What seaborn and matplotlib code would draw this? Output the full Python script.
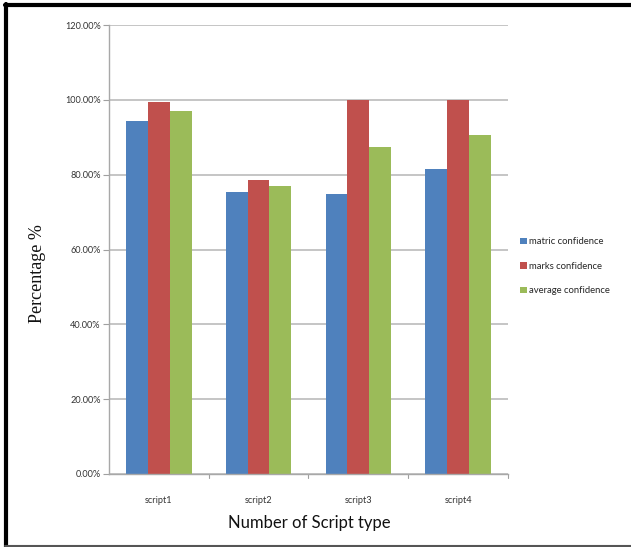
import matplotlib
matplotlib.use("Agg")
import matplotlib.pyplot as plt
import seaborn as sns
import pandas as pd
from matplotlib.lines import Line2D
from matplotlib.patches import Patch

categories = ["script1", "script2", "script3", "script4"]
series_names = ["matric confidence", "marks confidence", "average confidence"]
matric = [94.5, 75.4, 74.9, 81.6]
marks = [99.5, 78.6, 100.0, 100.0]
average = [97.1, 77.0, 87.3, 90.7]
y_ticks = [0, 20, 40, 60, 80, 100, 120]
colors = ["#4F81BD", "#C0504D", "#9BBB59"]

rows = []
for name, vals in zip(series_names, [matric, marks, average]):
    for c, v in zip(categories, vals):
        rows.append({"script": c, "series": name, "value": v})
df = pd.DataFrame(rows)

sns.set_theme(style="white")
plt.rcParams["font.family"] = ["Lato", "DejaVu Sans"]

fig = plt.figure(figsize=(6.31, 5.47), dpi=100)
ax = fig.add_axes([0.1727, 0.1335, 0.805 - 0.1727, 0.954 - 0.1335])

sns.barplot(data=df, x="script", y="value", hue="series", hue_order=series_names,
            palette=colors, width=0.655, gap=0, saturation=1, ax=ax,
            edgecolor="none", linewidth=0, legend=False)

ax.set_ylim(0, 120)
ax.set_xlim(-0.5, 3.5)
ax.set_yticks(y_ticks)
ax.set_yticklabels([f"{t:.2f}%" for t in y_ticks], fontsize=6.6, color="#333333")
ax.tick_params(axis="x", labelsize=6.6, labelcolor="#333333", length=0, pad=16)
ax.tick_params(axis="y", length=4, width=0.8, color="#a0a0a0", left=True, pad=2)
ax.yaxis.grid(True, color="#c0c0c0", linewidth=1.3)
ax.set_axisbelow(True)
for s in ["top", "right"]:
    ax.spines[s].set_visible(False)
for s in ["left", "bottom"]:
    ax.spines[s].set_color("#a8a8a8")
    ax.spines[s].set_linewidth(1.0)

# category boundary ticks on the x axis
for b in [0.5, 1.5, 2.5, 3.5]:
    ax.plot([b, b], [0, -1.2], color="#a0a0a0", linewidth=0.8, clip_on=False)

ax.set_xlabel("")
ax.set_ylabel("")
fig.text(0.06, 0.5, "Percentage %", rotation=90, ha="center", va="center",
         fontsize=13, family="Liberation Serif", color="#111111")
fig.text(0.49, 0.043, "Number of Script type", ha="center", va="center",
         fontsize=12, color="#111111")

handles = [Patch(facecolor=c, edgecolor="none") for c in colors]
fig.legend(handles, series_names, loc="center left", bbox_to_anchor=(0.818, 0.513),
           frameon=False, fontsize=6.8, handlelength=0.7, handleheight=0.7,
           handletextpad=0.3, labelspacing=1.65, borderaxespad=0)

# outer frame
fig.add_artist(Line2D([0.0103, 0.0103], [0.0, 0.992], color="black", linewidth=3.0,
                      transform=fig.transFigure))
fig.add_artist(Line2D([0.008, 1.0], [0.9905, 0.9905], color="black", linewidth=3.0,
                      transform=fig.transFigure))
fig.add_artist(Line2D([0.008, 1.0], [0.002, 0.002], color="#555555", linewidth=1.5,
                      transform=fig.transFigure))

fig.savefig("out.png", dpi=100)
